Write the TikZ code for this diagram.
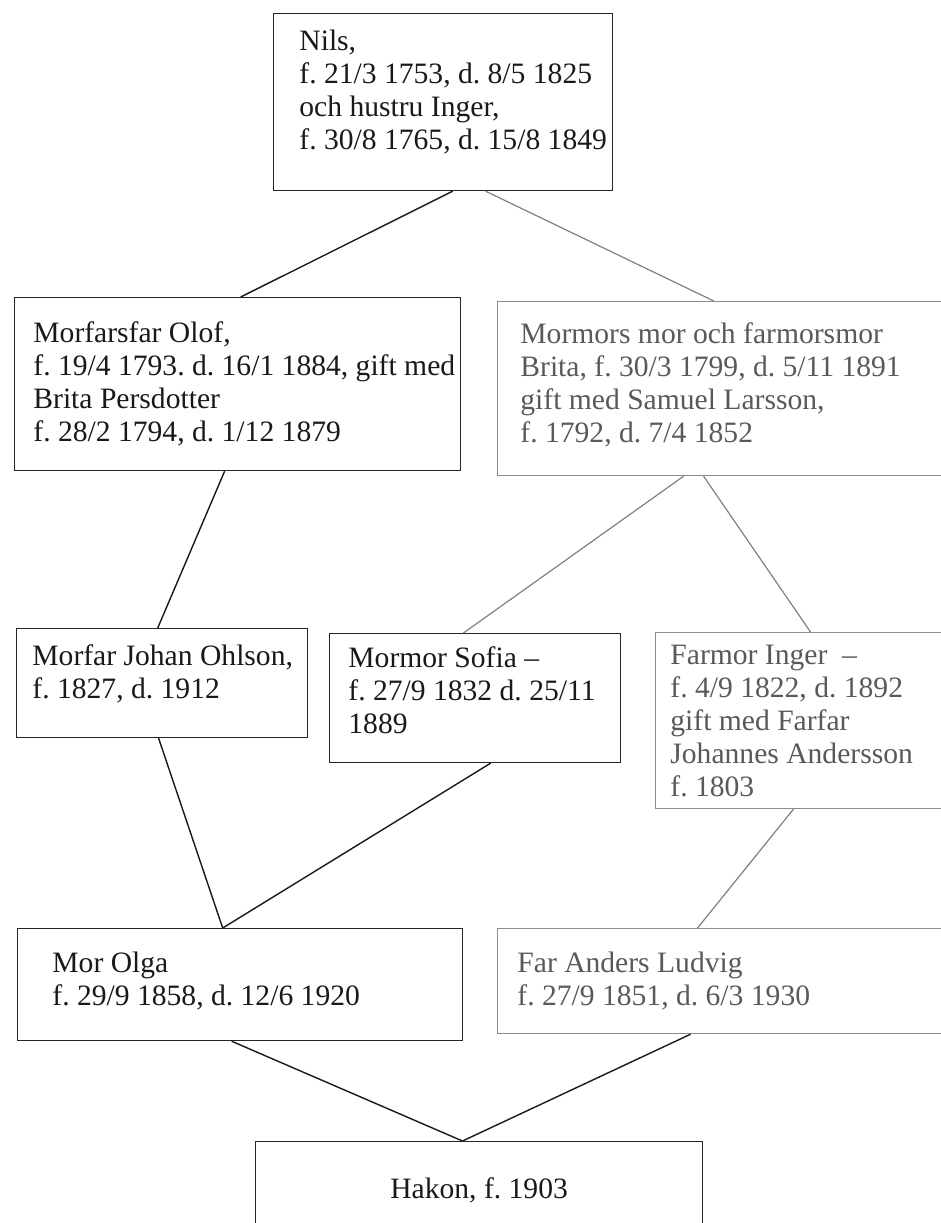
\documentclass[tikz,border=0pt]{standalone}
\usepackage{fontspec}
\setmainfont{Liberation Serif}
\usetikzlibrary{positioning,calc}
\frenchspacing

\begin{document}
\begin{tikzpicture}[x=0.5pt, y=-0.5pt]
  \tikzstyle{box}=[rectangle, draw=black!85, line width=0.6pt, anchor=north west, inner sep=0pt]
  \tikzstyle{faded}=[draw=black!45]
  \tikzstyle{txt}=[anchor=west, align=left, inner sep=0pt, text=black!90, font=\fontsize{14.8}{16.5}\selectfont]
  \tikzstyle{pale}=[text=black!65]
  \tikzstyle{link}=[line width=0.7pt, draw=black!90]
  \tikzstyle{palelink}=[line width=0.6pt, draw=black!50]

  \useasboundingbox (0,0) rectangle (941,1223);
  \clip (0,0) rectangle (941,1223);

  % Rutor
  \node[box, minimum width=169.5pt, minimum height=88.5pt] (nils) at (273,13) {};
  \node[box, minimum width=223pt, minimum height=86.5pt] (morfarsfar) at (14,297) {};
  \node[box, faded, minimum width=231.5pt, minimum height=87pt] (mormors) at (497,301) {};
  \node[box, minimum width=145.5pt, minimum height=54.5pt] (johan) at (16,628) {};
  \node[box, minimum width=145.5pt, minimum height=64.5pt] (sofia) at (329,633) {};
  \node[box, faded, minimum width=152.5pt, minimum height=88pt] (farmor) at (655,632) {};
  \node[box, minimum width=222.5pt, minimum height=56pt] (olga) at (17,928) {};
  \node[box, faded, minimum width=231.5pt, minimum height=52.5pt] (anders) at (497,928) {};
  \node[box, minimum width=223.5pt, minimum height=60pt] (hakon) at (255,1141) {};

  % Texter
  \node[txt, xshift=13pt, yshift=5pt] (nilsT) at (nils.west) {Nils,\\f. 21/3 1753, d. 8/5 1825\\och hustru Inger,\\f. 30/8 1765, d. 15/8 1849};
  \node[txt, xshift=9.5pt] (morfarsfarT) at (morfarsfar.west) {Morfarsfar Olof,\\f. 19/4 1793. d. 16/1 1884, gift med\\Brita Persdotter\\f. 28/2 1794, d. 1/12 1879};
  \node[txt, pale, xshift=11.5pt, yshift=2pt] (mormorsT) at (mormors.west) {Mormors mor och farmorsmor\\Brita, f. 30/3 1799, d. 5/11 1891\\gift med Samuel Larsson,\\f. 1792, d. 7/4 1852};
  \node[txt, xshift=8pt, yshift=4.5pt] (johanT) at (johan.west) {Morfar Johan Ohlson,\\f. 1827, d. 1912};
  \node[txt, xshift=9.5pt, yshift=4pt] (sofiaT) at (sofia.west) {Mormor Sofia \textendash\\f. 27/9 1832 d. 25/11\\1889};
  \node[txt, pale, xshift=7.5pt] (farmorT) at (farmor.west) {Farmor Inger\ \ \textendash\\f. 4/9 1822, d. 1892\\gift med Farfar\\Johannes Andersson\\f. 1803};
  \node[txt, xshift=17.5pt, yshift=2pt] (olgaT) at (olga.west) {Mor Olga\\f. 29/9 1858, d. 12/6 1920};
  \node[txt, pale, xshift=10pt] (andersT) at (anders.west) {Far Anders Ludvig\\f. 27/9 1851, d. 6/3 1930};
  \node[txt, anchor=center, yshift=5.5pt] (hakonT) at (hakon.center) {Hakon, f. 1903};

  % Linjer
  \draw[link] ($(nils.south west)!0.528!(nils.south east)$) -- ($(morfarsfar.north west)!0.507!(morfarsfar.north east)$);
  \draw[palelink] ($(nils.south west)!0.625!(nils.south east)$) -- ($(mormors.north west)!0.467!(mormors.north east)$);
  \draw[link] ($(morfarsfar.south west)!0.471!(morfarsfar.south east)$) -- ($(johan.north west)!0.485!(johan.north east)$);
  \draw[palelink] ($(mormors.south west)!0.402!(mormors.south east)$) -- ($(sofia.north west)!0.46!(sofia.north east)$);
  \draw[palelink] ($(mormors.south west)!0.445!(mormors.south east)$) -- ($(farmor.north west)!0.508!(farmor.north east)$);
  \draw[link] ($(johan.south west)!0.488!(johan.south east)$) -- ($(olga.north west)!0.461!(olga.north east)$);
  \draw[link] ($(sofia.south west)!0.553!(sofia.south east)$) -- ($(olga.north west)!0.461!(olga.north east)$);
  \draw[palelink] ($(farmor.south west)!0.452!(farmor.south east)$) -- ($(anders.north west)!0.432!(anders.north east)$);
  \draw[link] ($(olga.south west)!0.481!(olga.south east)$) -- ($(hakon.north west)!0.463!(hakon.north east)$);
  \draw[link] ($(anders.south west)!0.417!(anders.south east)$) -- ($(hakon.north west)!0.463!(hakon.north east)$);
\end{tikzpicture}
\end{document}
